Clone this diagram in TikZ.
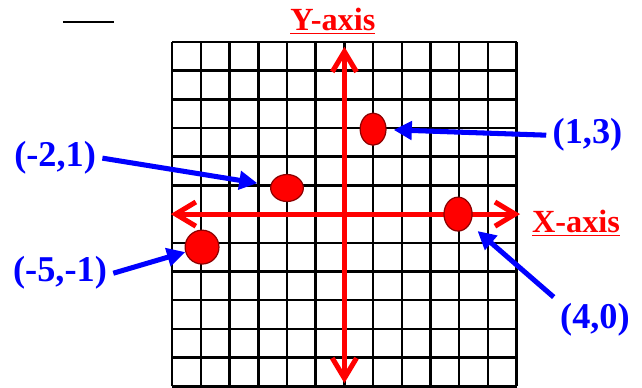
\documentclass[tikz,border=0pt]{standalone}
\usepackage{fontspec}
\setmainfont{Liberation Serif}
\usetikzlibrary{arrows.meta,shapes.geometric}
\begin{document}
\begin{tikzpicture}[x=0.5cm, y=0.5cm,
    every node/.style={font=\bfseries, inner sep=1pt},
    gridline/.style={line width=1.2pt, black, step=0.5cm},
    axisline/.style={line width=2.5pt, red, {Straight Barb[length=10pt,width=12pt]}-{Straight Barb[length=10pt,width=12pt]}},
    dot/.style={ellipse, fill=red, draw=red!55!black, line width=0.6pt, inner sep=0pt},
    title/.style={red, anchor=base, font=\fontsize{16}{19}\selectfont\bfseries},
    coord/.style={blue, inner sep=3pt, font=\fontsize{18}{21}\selectfont\bfseries},
    pointer/.style={blue, line width=2.5pt, -{Triangle[length=9pt,width=9pt]}}]
    \useasboundingbox (-12,-6.03) rectangle (10.37,7.46);
    \draw[line width=1pt] (-9.81,6.69) -- (-8.02,6.69);
    \draw[gridline] (-6,-6) grid (6,6);
    \draw[axisline] (-6.05,0) -- (6.12,0);
    \draw[axisline] (0,-5.89) -- (0,5.83);
    \node[title] (ytitle) at (-0.4,6.41) {\underline{Y-axis}};
    \node[title] (xtitle) at (8.07,-0.63) {\underline{X-axis}};
    \foreach \nm/\cx/\cy/\w/\h in {d13/1/2.96/0.45/0.56, d21/-2/0.91/0.57/0.47, d40/3.96/0/0.49/0.59, d51/-4.96/-1.15/0.59/0.59} {
        \node[dot, minimum width=\w cm, minimum height=\h cm] (\nm) at (\cx,\cy) {};
    }
    \node[coord] (l13) at (8.47,2.75) {(1,3)};
    \node[coord] (l21) at (-10.08,1.95) {(-2,1)};
    \node[coord] (l51) at (-9.91,-2.06) {(-5,-1)};
    \node[coord] (l40) at (8.73,-3.69) {(4,0)};
    \draw[pointer, shorten >=3.5pt] (l13.west) -- (d13);
    \draw[pointer, shorten >=6.5pt] (l21.east) -- (d21);
    \draw[pointer] (l51.east) -- (d51);
    \draw[pointer, shorten >=5pt] (l40.north west) -- (d40);
\end{tikzpicture}
\end{document}
